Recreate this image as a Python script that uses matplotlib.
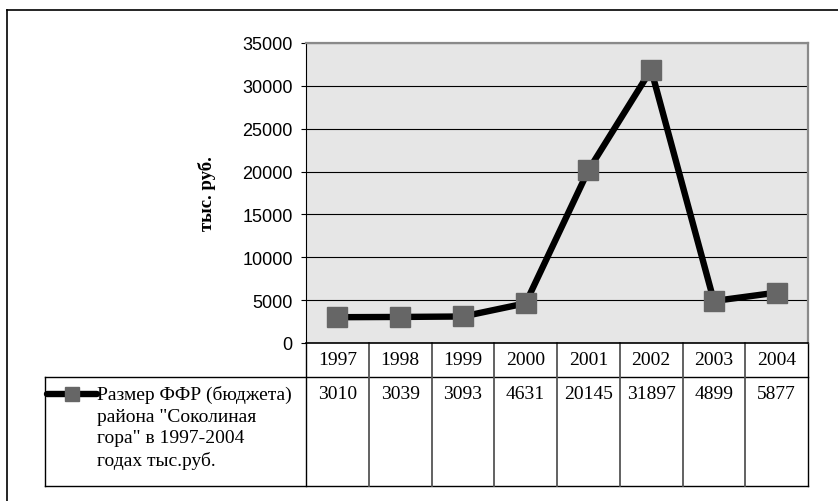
import matplotlib
matplotlib.use("Agg")
import matplotlib.pyplot as plt
from matplotlib.lines import Line2D

years = ["1997", "1998", "1999", "2000", "2001", "2002", "2003", "2004"]
values = [3010, 3039, 3093, 4631, 20145, 31897, 4899, 5877]
series_name = 'Размер ФФР (бюджета)\nрайона "Соколиная\nгора" в 1997-2004\nгодах тыс.руб.'
y_label = "тыс. руб."

W, H = 838, 502
fig = plt.figure(figsize=(W / 100, H / 100), dpi=100)

# plot area in pixels: left 306, right 808, top 44, bottom 344
ax = fig.add_axes([306 / W, 1 - 344 / H, 502 / W, 300 / H])
ax.set_facecolor("#e6e6e6")

x = list(range(len(years)))
ax.plot(x, values, color="black", lw=4.6, marker="s", markersize=15,
        markerfacecolor="#666666", markeredgecolor="#666666", zorder=3, clip_on=False)

ax.set_xlim(-0.5, len(years) - 0.5)
ax.set_ylim(0, 35000)
ax.set_yticks(range(0, 35001, 5000))
ax.set_xticks([])
ax.tick_params(axis="y", direction="out", length=3.6, width=0.8, labelsize=13,
               pad=6)
for lab in ax.get_yticklabels():
    lab.set_fontfamily("Liberation Sans")
ax.yaxis.grid(True, color="black", lw=0.8)
ax.set_axisbelow(True)

ax.spines["left"].set_color("black")
ax.spines["bottom"].set_color("black")
ax.spines["bottom"].set_linewidth(1.2)
for side in ("top", "right"):
    ax.spines[side].set_color("#8a8a8a")
    ax.spines[side].set_linewidth(1.6)

ax.set_ylabel(y_label, fontfamily="Liberation Serif", fontweight="bold",
              fontsize=13.5, labelpad=19)

# data table under the plot (axes coords for y, data coords for x)
tr = ax.get_xaxis_transform()
row1 = -34 / 300
row2 = -143 / 300
left = -0.5 - (261 / 502) * len(years)
xr = len(years) - 0.5
lkw = dict(color="black", lw=1.0, transform=tr, clip_on=False)
lkw_g = dict(color="#555555", lw=1.3, transform=tr, clip_on=False)

ax.add_line(Line2D([left, xr], [row1, row1], **lkw))
ax.add_line(Line2D([left, xr], [row2, row2], **lkw))
ax.add_line(Line2D([left, left], [row1, row2], **lkw))
ax.add_line(Line2D([-0.5, -0.5], [0, row2], **lkw))
for i in range(1, len(years)):
    ax.add_line(Line2D([i - 0.5, i - 0.5], [0, row2], **lkw_g))
ax.add_line(Line2D([xr, xr], [0, row2], **lkw))

for i, (yr, v) in enumerate(zip(years, values)):
    ax.text(i, row1 / 2, yr, transform=tr, ha="center", va="center",
            fontfamily="Liberation Serif", fontsize=14)
    ax.text(i, row1 - 0.028, str(v), transform=tr, ha="center", va="top",
            fontfamily="Liberation Serif", fontsize=14)

# legend key + series name in the left cell
key_y = row1 - 0.056
key_x0 = left + 2 / 502 * len(years)
key_x1 = left + 52 / 502 * len(years)
ax.add_line(Line2D([key_x0, key_x1], [key_y, key_y], color="black", lw=4.6,
                   solid_capstyle="round", transform=tr, clip_on=False))
ax.add_line(Line2D([(key_x0 + key_x1) / 2], [key_y], marker="s", markersize=10,
                   markerfacecolor="#666666", markeredgecolor="#666666",
                   transform=tr, clip_on=False))
ax.text(left + 52 / 502 * len(years), row1 - 0.028, series_name, transform=tr,
        ha="left", va="top", fontfamily="Liberation Serif", fontsize=14,
        linespacing=1.34)

# outer chart frame (top and left visible)
fig.add_artist(Line2D([7 / W, 7 / W], [0, 1 - 11 / H], color="black", lw=1.2,
                      transform=fig.transFigure))
fig.add_artist(Line2D([7 / W, 1], [1 - 11 / H, 1 - 11 / H], color="black",
                      lw=1.2, transform=fig.transFigure))

fig.savefig("out.png", dpi=100)
